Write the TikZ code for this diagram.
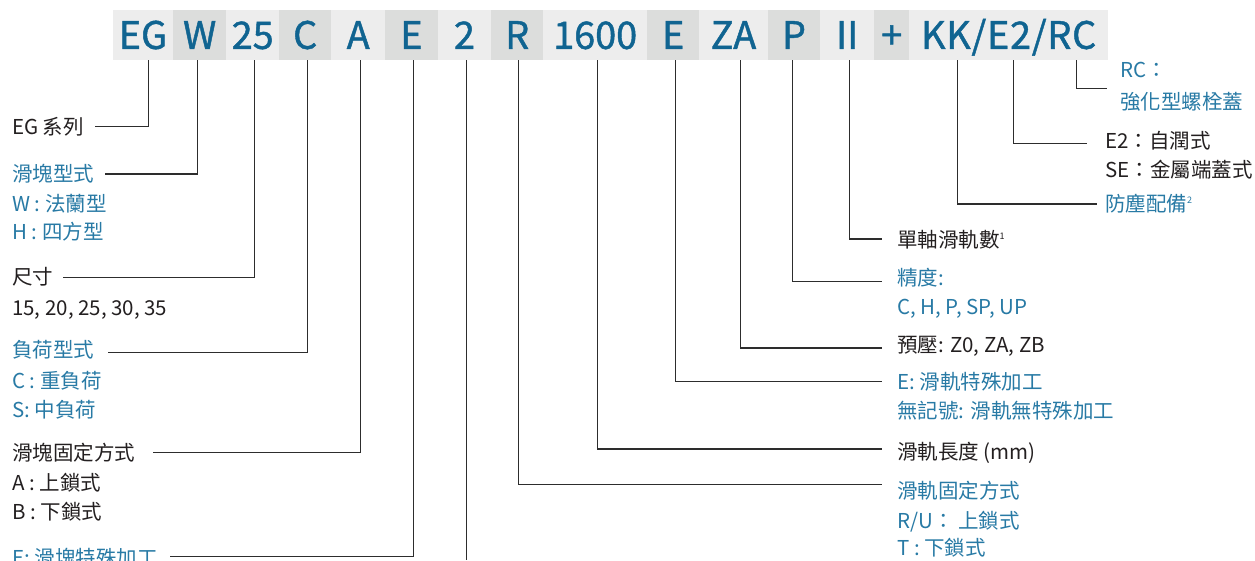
\documentclass[tikz,border=0pt]{standalone}
\usepackage{fontspec}
\setmainfont{Noto Sans CJK TC}
\newfontfamily\codefont{Noto Sans CJK TC}[FakeBold=1.2]
\definecolor{codeblue}{RGB}{16,100,145}
\definecolor{labblue}{RGB}{40,122,165}
\definecolor{txtblack}{RGB}{35,31,32}
\definecolor{cellA}{RGB}{237,237,237}
\definecolor{cellB}{RGB}{220,221,220}
\definecolor{linegray}{RGB}{45,45,45}
\newcommand{\supnum}[1]{\raisebox{8pt}{\fontsize{9}{9}\selectfont #1}}
\begin{document}
\begin{tikzpicture}[x=1pt,y=-1pt,
  cell/.style={anchor=west, inner sep=0pt, minimum height=50pt, text=codeblue,
    font=\codefont\fontsize{37.8}{40}\selectfont, text height=27.7pt, text depth=0pt},
  cl/.style={cell, fill=cellA},
  cd/.style={cell, fill=cellB},
  lab/.style={anchor=west, inner sep=0pt, font=\fontsize{20.5}{24}\selectfont,
    text height=18pt, text depth=2.5pt},
  blk/.style={lab, text=txtblack},
  blu/.style={lab, text=labblue},
  conn/.style={draw=linegray, line width=1.3pt}
]
\useasboundingbox (0,0) rectangle (1255,560);

% code bar
\node[cl, minimum width=60.5pt] (cEG)  at (112.5,35) {EG};
\node[cd, minimum width=53pt]   (cW)   at (173,35)   {W};
\node[cl, minimum width=53pt]   (c25)  at (226,35)   {25};
\node[cd, minimum width=52pt]   (cC)   at (279,35)   {C};
\node[cl, minimum width=54pt]   (cA)   at (331,35)   {A};
\node[cd, minimum width=52.5pt] (cE)   at (385,35)   {E};
\node[cl, minimum width=53.5pt] (c2)   at (437.5,35) {2};
\node[cd, minimum width=52pt]   (cR)   at (491,35)   {R};
\node[cl, minimum width=104pt]  (cL)   at (543,35)   {1600};
\node[cd, minimum width=52pt]   (cRE)  at (647,35)   {E};
\node[cl, minimum width=68.5pt] (cZA)  at (699,35)   {ZA};
\node[cd, minimum width=52.5pt] (cP)   at (767.5,35) {P};
\node[cl, minimum width=54pt]   (cII)  at (820,35)   {II};
\node[cd, minimum width=35pt]   (cPl)  at (874,35)   {+};
\node[cl, minimum width=199pt]  (cK)   at (909,35)   {\addfontfeature{LetterSpace=2}KK/E2/RC};

% left labels
\node[blk] (lEG)  at (12,126.7) {EG 系列};
\node[blu] (lW)   at (12,174)   {滑塊型式};
\node[blu] (lW1)  at (12,203.3) {W : 法蘭型};
\node[blu] (lW2)  at (12,231.7) {H : 四方型};
\node[blk] (l25)  at (12,276.7) {尺寸};
\node[blk] (l251) at (12,307.3) {15, 20, 25, 30, 35};
\node[blu] (lC)   at (12,350)   {負荷型式};
\node[blu] (lC1)  at (12,380.7) {C : 重負荷};
\node[blu] (lC2)  at (12,410)   {S: 中負荷};
\node[blk] (lA)   at (12,452.7) {滑塊固定方式};
\node[blk] (lA1)  at (12,482.7) {A : 上鎖式};
\node[blk] (lA2)  at (12,511.7) {B : 下鎖式};
\node[blu] (lE)   at (12,558)   {E: 滑塊特殊加工};

% right labels
\node[blu] (lRC)  at (1120,70)    {RC：};
\node[blu] (lRC1) at (1120,101.7) {強化型螺栓蓋};
\node[blk] (lE2)  at (1105,140.7) {E2：自潤式};
\node[blk] (lE21) at (1105,169.3) {SE：金屬端蓋式};
\node[blu] (lKK)  at (1105,204)   {防塵配備\supnum{2}};
\node[blk] (lII)  at (897,240)    {單軸滑軌數\supnum{1}};
\node[blu] (lP)   at (897,278)    {精度:};
\node[blu] (lP1)  at (897,306.7)  {C, H, P, SP, UP};
\node[blk] (lZA)  at (897,345)    {預壓: Z0, ZA, ZB};
\node[blu] (lRE)  at (897,381.7)  {E: 滑軌特殊加工};
\node[blu] (lRE1) at (897,411)    {無記號: 滑軌無特殊加工};
\node[blk] (lL)   at (897,451.7)  {滑軌長度 (mm)};
\node[blu] (lR)   at (897,491)    {滑軌固定方式};
\node[blu] (lR1)  at (897,520.7)  {R/U： 上鎖式};
\node[blu] (lR2)  at (897,548)    {T : 下鎖式};

% left connectors
\draw[conn] ([xshift=5.25pt]cEG.south) |- ([xshift=11pt]lEG.east);
\draw[conn] ([xshift=-2pt]cW.south)    |- ([xshift=11pt]lW.east);
\draw[conn] ([xshift=1.5pt]c25.south)  |- ([shift={(10pt,-1pt)}]l25.east);
\draw[conn] ([xshift=2pt]cC.south)     |- ([shift={(14pt,-2.3pt)}]lC.east);
\draw[conn] ([xshift=2pt]cA.south)     |- ([xshift=18pt]lA.east);
\draw[conn] ([xshift=1.75pt]cE.south)  |- ([shift={(12pt,1.3pt)}]lE.east);
\draw[conn] ([xshift=1.75pt]c2.south)  -- ++(0,500);

% right connectors
\draw[conn] ([xshift=67.5pt]cK.south)  |- ([shift={(-13.3pt,-18.3pt)}]lRC.west);
\draw[conn] ([xshift=4.5pt]cK.south)   |- ([shift={(-18.3pt,-2.6pt)}]lE2.west);
\draw[conn] ([xshift=-51.5pt]cK.south) |- ([xshift=-8pt]lKK.west);
\draw[conn] ([xshift=2pt]cII.south)    |- ([shift={(-15pt,1pt)}]lII.west);
\draw[conn] ([xshift=-1.75pt]cP.south) |- ([shift={(-15pt,-3.7pt)}]lP.west);
\draw[conn] ([xshift=6.75pt]cZA.south) |- ([shift={(-15pt,-3pt)}]lZA.west);
\draw[conn] ([xshift=2pt]cRE.south)    |- ([xshift=-15pt]lRE.west);
\draw[conn] ([xshift=2.5pt]cL.south)   |- ([shift={(-15pt,2.7pt)}]lL.west);
\draw[conn] ([xshift=1pt]cR.south)     |- ([shift={(-15pt,6.7pt)}]lR.west);
\end{tikzpicture}
\end{document}
